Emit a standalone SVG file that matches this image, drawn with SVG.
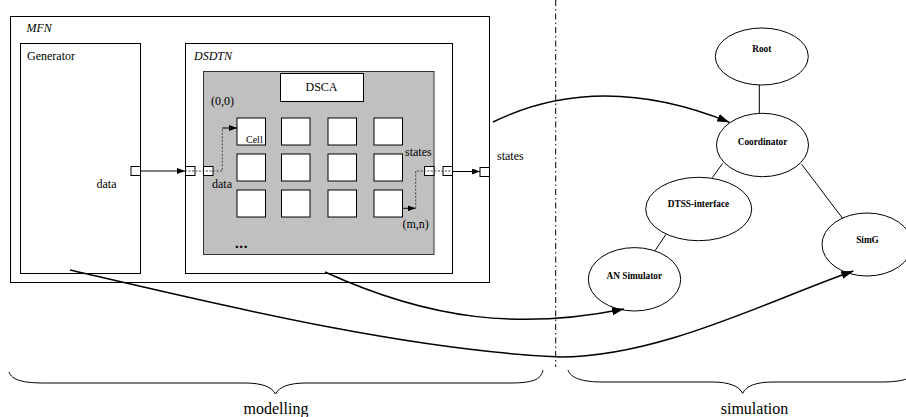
<svg xmlns="http://www.w3.org/2000/svg" width="906" height="417" viewBox="0 0 906 417">
<defs>
<style>
.box{fill:#fff;stroke:#000;stroke-width:1}
.gray{fill:#c0c0c0;stroke:#333;stroke-width:1}
.port{fill:#fff;stroke:#000;stroke-width:1}
.t{font-family:'Liberation Serif','Times New Roman','DejaVu Serif',serif;font-size:12px;fill:#000}
.it{font-style:italic}
.cell{font-size:10px}
.big{font-size:16px}
.nl{font-family:'Liberation Serif','Times New Roman','DejaVu Serif',serif;font-size:9.3px;font-weight:bold;fill:#000;text-anchor:middle}
.ell{fill:#fff;stroke:#000;stroke-width:1}
.edge{fill:none;stroke:#000;stroke-width:1}
.curve{fill:none;stroke:#000;stroke-width:1.5}
.dot{fill:none;stroke:#444;stroke-width:1;stroke-dasharray:2,1.5}
.sarrow{fill:none;stroke:#000;stroke-width:1}
</style>
<marker id="ah" markerWidth="8" markerHeight="6" refX="8" refY="3" orient="auto" markerUnits="userSpaceOnUse">
<path d="M0,0 L8,3 L0,6 Z" fill="#000"/>
</marker>
<marker id="ahb" markerWidth="12" markerHeight="8" refX="12" refY="4" orient="auto" markerUnits="userSpaceOnUse">
<path d="M0,0 L12,4 L0,8 Z" fill="#000"/>
</marker>
</defs>

<g id="MFN">
<rect class="box" x="10.5" y="16.5" width="479" height="266"/>
<text class="t it" x="26.5" y="32">MFN</text>
</g>

<g id="Generator">
<rect class="box" x="20.5" y="43.5" width="120" height="230"/>
<text class="t" x="27" y="59.5">Generator</text>
<text class="t" x="96.5" y="187.5">data</text>
<rect class="port" x="131" y="166.5" width="9.5" height="9"/>
</g>

<g id="DSDTN">
<rect class="box" x="185.5" y="43.5" width="267" height="230"/>
<text class="t it" x="194" y="59.5">DSDTN</text>
</g>

<g id="DSCA-grid">
<rect class="gray" x="203.5" y="71.5" width="230.5" height="183"/>
<text class="t" x="211" y="104.5">(0,0)</text>
<text class="t" x="212" y="187.5">data</text>
<text class="t" x="405" y="155.5">states</text>
<text class="t" x="402.5" y="228">(m,n)</text>
<text class="t" x="235" y="248" style="font-weight:bold;font-size:15px;letter-spacing:0.6px">...</text>
</g>

<g id="DSCA">
<rect class="box" x="280.5" y="73.5" width="83" height="28"/>
<text class="t" x="321.5" y="90.5" text-anchor="middle">DSCA</text>
</g>

<g id="cells">
<rect class="box" x="237" y="118" width="28.5" height="27"/>
<text class="t cell" x="246" y="143">Cell</text>
<rect class="box" x="281.5" y="118" width="28.5" height="27"/>
<rect class="box" x="328" y="118" width="28.5" height="27"/>
<rect class="box" x="374" y="118" width="28.5" height="27"/>
<rect class="box" x="237" y="154" width="28.5" height="27"/>
<rect class="box" x="281.5" y="154" width="28.5" height="27"/>
<rect class="box" x="328" y="154" width="28.5" height="27"/>
<rect class="box" x="374" y="154" width="28.5" height="27"/>
<rect class="box" x="237" y="190" width="28.5" height="27"/>
<rect class="box" x="281.5" y="190" width="28.5" height="27"/>
<rect class="box" x="328" y="190" width="28.5" height="27"/>
<rect class="box" x="374" y="190" width="28.5" height="27"/>
</g>

<g id="ports">
<rect class="port" x="185.5" y="166.5" width="9.5" height="9"/>
<rect class="port" x="203.5" y="166.5" width="9.5" height="9"/>
<rect class="port" x="424.5" y="166.5" width="9.5" height="9"/>
<rect class="port" x="443" y="166.5" width="9.5" height="9"/>
<rect class="port" x="480" y="167.5" width="9.5" height="9"/>
<text class="t" x="497" y="159.5">states</text>
</g>

<g id="Root">
<ellipse class="ell" cx="761.8" cy="56.5" rx="46.5" ry="28.5"/>
<text class="nl" x="761.8" y="52">Root</text>
</g>
<g id="Coordinator">
<ellipse class="ell" cx="762.5" cy="145" rx="46" ry="31.7"/>
<text class="nl" x="762.5" y="144.5">Coordinator</text>
</g>
<g id="DTSS-interface">
<ellipse class="ell" cx="698.7" cy="209" rx="53" ry="31.7"/>
<text class="nl" x="698.5" y="207">DTSS-interface</text>
</g>
<g id="AN-Simulator">
<ellipse class="ell" cx="634.5" cy="279.3" rx="46.2" ry="31.7"/>
<text class="nl" x="634.3" y="278.5">AN Simulator</text>
</g>
<g id="SimG">
<ellipse class="ell" cx="867" cy="244.5" rx="45" ry="31.5"/>
<text class="nl" x="867.5" y="242.5">SimG</text>
</g>

<g id="separator">
<line x1="555.7" y1="0" x2="555.7" y2="367" stroke="#000" stroke-width="1" stroke-dasharray="6,3,1.5,3"/>
<path class="edge" d="M9,372 C12,380 22,383 45,383 L245,383 C262,383 272,387 275.5,394 C279,387 289,383 306,383 L510,383 C532,383 541,380 543,370"/>
<path class="edge" d="M568,370 C571,378 581,382 604,382 L712,382 C729,382 739,386 742.7,393.3 C746,386 756,382 773,382 L881,382 C904,382 914,378 917,370"/>
<text class="t big" x="276" y="414" text-anchor="middle">modelling</text>
<text class="t big" x="754.5" y="414" text-anchor="middle">simulation</text>
</g>

<g id="connectors">
<line class="sarrow" x1="140.5" y1="171" x2="185" y2="171" marker-end="url(#ah)"/>
<polyline class="dot" points="185,171 222.3,171 222.3,128"/>
<line class="sarrow" x1="222.3" y1="128" x2="237" y2="128" marker-end="url(#ah)"/>
<line class="sarrow" x1="402.5" y1="208.3" x2="415.5" y2="208.3" marker-end="url(#ah)"/>
<polyline class="dot" points="415.7,208.3 415.7,171 452.5,171"/>
<line class="sarrow" x1="452.5" y1="171.5" x2="480" y2="171.5" marker-end="url(#ah)"/>
<line class="edge" x1="759.3" y1="85" x2="759.3" y2="113.3"/>
<line class="edge" x1="722.7" y1="163.3" x2="712.3" y2="177.7"/>
<line class="edge" x1="801.7" y1="164.3" x2="842.7" y2="218.5"/>
<line class="edge" x1="666" y1="234.3" x2="655" y2="250.7"/>
<path class="curve" d="M493,122 Q600,70 729.3,122.3" marker-end="url(#ahb)"/>
<path class="curve" d="M325,272 C430,320 520,330 624,309" marker-end="url(#ahb)"/>
<path class="curve" d="M70,270 C200,300 400,350 560,357 C660,357 770,300 853.3,271" marker-end="url(#ahb)"/>
</g>
</svg>
